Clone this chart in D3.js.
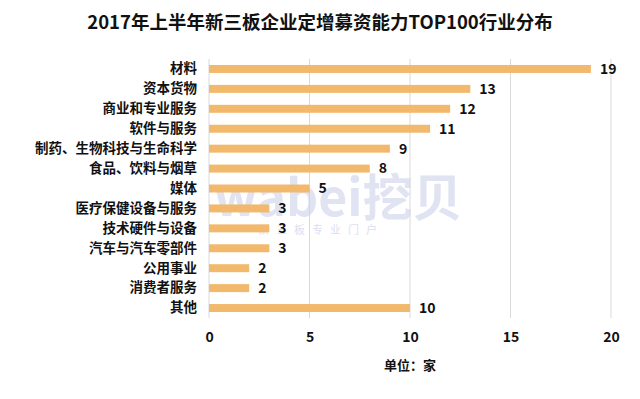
<!DOCTYPE html>
<html>
<head>
<meta charset="utf-8">
<script src="https://cdn.jsdelivr.net/npm/d3@7"></script>
<style>
  body { margin: 0; background: #fff; }
  text { font-family: "Noto Sans CJK SC", "Noto Sans", sans-serif; }
</style>
</head>
<body>
<div id="chart"></div>
<script>
const categories = ["材料", "资本货物", "商业和专业服务", "软件与服务", "制药、生物科技与生命科学",
    "食品、饮料与烟草", "媒体", "医疗保健设备与服务", "技术硬件与设备", "汽车与汽车零部件",
    "公用事业", "消费者服务", "其他"];
const values = [19, 13, 12, 11, 9, 8, 5, 3, 3, 3, 2, 2, 10];
const xTicks = [0, 5, 10, 15, 20];

const width = 640;
const height = 399;
const margin = { top: 59, right: 29, bottom: 81, left: 209 };

const svg = d3.select("#chart")
    .append("svg")
    .attr("width", width)
    .attr("height", height);

const xScale = d3.scaleLinear()
    .domain([0, 20])
    .range([margin.left, width - margin.right]);

const yScale = d3.scaleBand()
    .domain(categories)
    .range([margin.top, height - margin.bottom])
    .paddingInner(0.6)
    .paddingOuter(0.3);

// title
svg.append("text")
    .attr("x", 320)
    .attr("y", 29)
    .attr("text-anchor", "middle")
    .attr("font-size", 18.5)
    .attr("font-weight", "bold")
    .attr("fill", "#111")
    .text("2017年上半年新三板企业定增募资能力TOP100行业分布");

// gridlines
svg.append("g")
    .selectAll("line")
    .data(xTicks)
    .enter().append("line")
    .attr("x1", d => xScale(d))
    .attr("x2", d => xScale(d))
    .attr("y1", margin.top)
    .attr("y2", height - margin.bottom)
    .attr("stroke", "#d9d9d9")
    .attr("stroke-width", 1);

// watermark
svg.append("text")
    .attr("x", 214)
    .attr("y", 216)
    .attr("font-size", 50)
    .attr("font-weight", "bold")
    .attr("fill", "#cdd2ea")
    .attr("opacity", 0.6)
    .text("wabei挖贝");
svg.append("text")
    .attr("x", 258)
    .attr("y", 234)
    .attr("font-size", 11)
    .attr("letter-spacing", 7)
    .attr("fill", "#cdd2ea")
    .attr("opacity", 0.7)
    .text("新三板专业门户");

// bars
svg.append("g")
    .selectAll("rect")
    .data(values)
    .enter().append("rect")
    .attr("x", xScale(0))
    .attr("y", (d, i) => yScale(categories[i]))
    .attr("width", d => xScale(d) - xScale(0))
    .attr("height", yScale.bandwidth())
    .attr("fill", "#f2b86c");

// value labels
svg.append("g")
    .selectAll("text")
    .data(values)
    .enter().append("text")
    .attr("x", d => xScale(d) + 9)
    .attr("y", (d, i) => yScale(categories[i]) + yScale.bandwidth() / 2)
    .attr("dy", "0.35em")
    .attr("font-size", 14)
    .attr("font-weight", "bold")
    .attr("fill", "#111")
    .text(d => d);

// category axis
const yAxis = svg.append("g")
    .attr("transform", `translate(${margin.left - 12}, 0)`)
    .call(d3.axisLeft(yScale).tickSize(0).tickPadding(0));
yAxis.select(".domain").remove();
yAxis.selectAll("text")
    .attr("font-size", 13.5)
    .attr("font-weight", "bold")
    .attr("fill", "#111")
    .style("font-family", "\"Noto Sans CJK SC\", sans-serif");

// value axis
const xAxis = svg.append("g")
    .attr("transform", `translate(0, ${height - margin.bottom})`)
    .call(d3.axisBottom(xScale).tickValues(xTicks).tickSize(0).tickPadding(14).tickFormat(d3.format("d")));
xAxis.select(".domain").remove();
xAxis.selectAll("text")
    .attr("font-size", 14)
    .attr("font-weight", "bold")
    .attr("fill", "#111")
    .style("font-family", "\"Noto Sans CJK SC\", sans-serif");

// unit label
svg.append("text")
    .attr("x", 410)
    .attr("y", 370)
    .attr("text-anchor", "middle")
    .attr("font-size", 13)
    .attr("font-weight", "bold")
    .attr("fill", "#111")
    .text("单位：家");
</script>
</body>
</html>
